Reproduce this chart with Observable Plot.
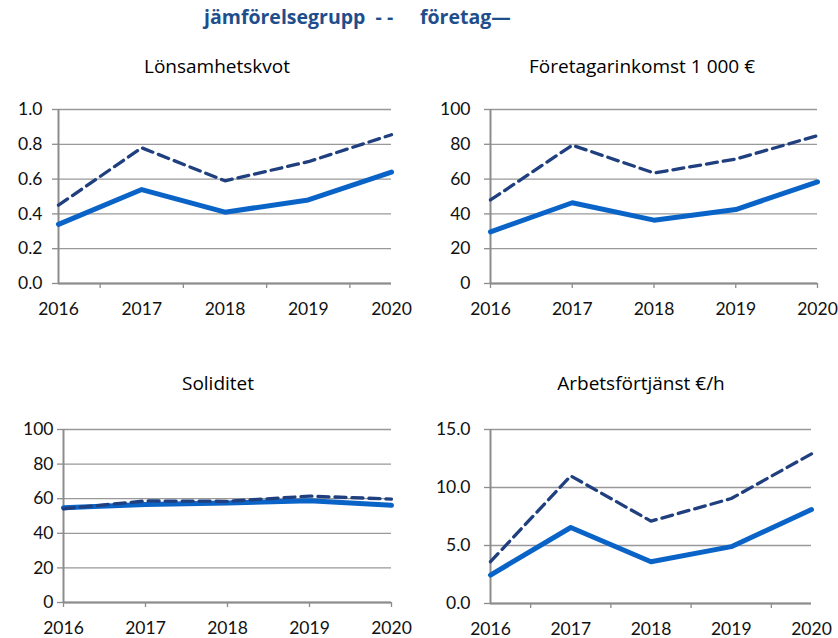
<!DOCTYPE html>
<html>
<head>
<meta charset="utf-8">
<script src="https://cdn.jsdelivr.net/npm/d3@7"></script>
<script src="https://cdn.jsdelivr.net/npm/@observablehq/plot@0.6"></script>
<style>
  body { margin: 0; background: #fff; }
  #root { position: relative; width: 838px; height: 638px; overflow: hidden; font-family: "Open Sans", sans-serif; }
  .legend { position: absolute; top: 3px; font-weight: bold; color: #1f4e8c; font-size: 19.5px; font-family: "Open Sans", sans-serif; white-space: pre; }
  .title { position: absolute; font-size: 19px; color: #000; white-space: nowrap; transform: translateX(-50%); font-family: "Open Sans", sans-serif; }
  .panel { position: absolute; }
</style>
</head>
<body>
<div id="root"></div>
<script>
const years = [2016, 2017, 2018, 2019, 2020];

const titles = ["Lönsamhetskvot", "Företagarinkomst 1 000 €", "Soliditet", "Arbetsförtjänst €/h"];
const legendLabels = ["jämförelsegrupp  - -", "företag—"];

const lonsComp = [0.45, 0.78, 0.59, 0.70, 0.855];
const lonsFirm = [0.34, 0.54, 0.41, 0.48, 0.64];
const inkComp  = [48, 79.5, 63.5, 71.5, 85];
const inkFirm  = [29.7, 46.4, 36.4, 42.5, 58.4];
const solComp  = [54.2, 58.7, 58.5, 61.5, 59.8];
const solFirm  = [54.8, 56.7, 57.5, 58.8, 56.2];
const arbComp  = [3.6, 11.0, 7.1, 9.05, 12.9];
const arbFirm  = [2.45, 6.55, 3.6, 4.9, 8.1];

const yTicks1 = [0, 0.2, 0.4, 0.6, 0.8, 1.0];
const yTicks2 = [0, 20, 40, 60, 80, 100];
const yTicks3 = [0, 20, 40, 60, 80, 100];
const yTicks4 = [0, 5, 10, 15];

const root = document.getElementById("root");

function addLegend() {
  const a = document.createElement("div");
  a.className = "legend"; a.style.left = "204px"; a.textContent = legendLabels[0];
  const b = document.createElement("div");
  b.className = "legend"; b.style.left = "420px"; b.textContent = legendLabels[1];
  root.append(a, b);
}

function panel(cfg) {
  const comp = years.map((x, i) => ({x, y: cfg.comp[i]}));
  const firm = years.map((x, i) => ({x, y: cfg.firm[i]}));
  const grey = "#8c8c8c";
  const xTickMarks = cfg.midTicks ? [2016.5, 2017.5, 2018.5, 2019.5] : years;
  const chart = Plot.plot({
    width: cfg.w, height: cfg.h,
    marginLeft: cfg.ml, marginRight: cfg.mr, marginTop: cfg.mt, marginBottom: cfg.mb,
    style: { fontFamily: "Lato, 'Open Sans', sans-serif", fontSize: "17.5px", color: "#111", background: "transparent", overflow: "visible" },
    x: { domain: [2016, 2020], axis: null },
    y: { domain: cfg.ydomain, axis: null },
    marks: [
      Plot.gridY(cfg.yticks, { stroke: "#999", strokeOpacity: 1, strokeWidth: 1.3 }),
      Plot.axisY(cfg.yticks, { tickSize: 6, tickPadding: cfg.tp, stroke: grey, strokeWidth: 1.3, tickFormat: cfg.fmt, fill: "#111", label: null }),
      Plot.axisX(xTickMarks, { tickSize: 5, tickFormat: () => "", stroke: grey, strokeWidth: 1.3, label: null }),
      Plot.axisX(years, { tickSize: 0, tickPadding: 19, tickFormat: d => String(d), fill: "#111", label: null }),
      Plot.ruleY([cfg.ydomain[0]], { stroke: grey, strokeWidth: 2 }),
      Plot.ruleX([2016], { stroke: grey, strokeWidth: 2, y1: cfg.ydomain[0], y2: cfg.ydomain[1] }),
      Plot.line(firm, { x: "x", y: "y", stroke: "#0a64c8", strokeWidth: 5, strokeLinejoin: "round" }),
      Plot.line(comp, { x: "x", y: "y", stroke: "#1f3f7f", strokeWidth: 3.3, strokeDasharray: "11,6", strokeLinejoin: "round" })
    ]
  });
  chart.classList.add("panel");
  chart.style.left = cfg.left + "px";
  chart.style.top = cfg.top + "px";
  root.append(chart);
  const t = document.createElement("div");
  t.className = "title";
  t.textContent = cfg.title;
  t.style.left = cfg.tx + "px";
  t.style.top = cfg.ty + "px";
  root.append(t);
}

addLegend();

const f1 = d => d.toFixed(1);
const f0 = d => String(d);

panel({ title: titles[0], tx: 217, ty: 53, left: 0, top: 90, w: 420, h: 230, ml: 58, mr: 29, mt: 19, mb: 37,
  ydomain: [0, 1], yticks: yTicks1, fmt: f1, tp: 10, comp: lonsComp, firm: lonsFirm, midTicks: true });
panel({ title: titles[1], tx: 642, ty: 53, left: 420, top: 90, w: 418, h: 230, ml: 70, mr: 21, mt: 19, mb: 37,
  ydomain: [0, 100], yticks: yTicks2, fmt: f0, tp: 14, comp: inkComp, firm: inkFirm, midTicks: false });
panel({ title: titles[2], tx: 218, ty: 370, left: 0, top: 410, w: 420, h: 228, ml: 63, mr: 29, mt: 19, mb: 36,
  ydomain: [0, 100], yticks: yTicks3, fmt: f0, tp: 4, comp: solComp, firm: solFirm, midTicks: false });
panel({ title: titles[3], tx: 641, ty: 370, left: 420, top: 410, w: 418, h: 228, ml: 70, mr: 27, mt: 19, mb: 35,
  ydomain: [0, 15], yticks: yTicks4, fmt: f1, tp: 14, comp: arbComp, firm: arbFirm, midTicks: true });
</script>
</body>
</html>
